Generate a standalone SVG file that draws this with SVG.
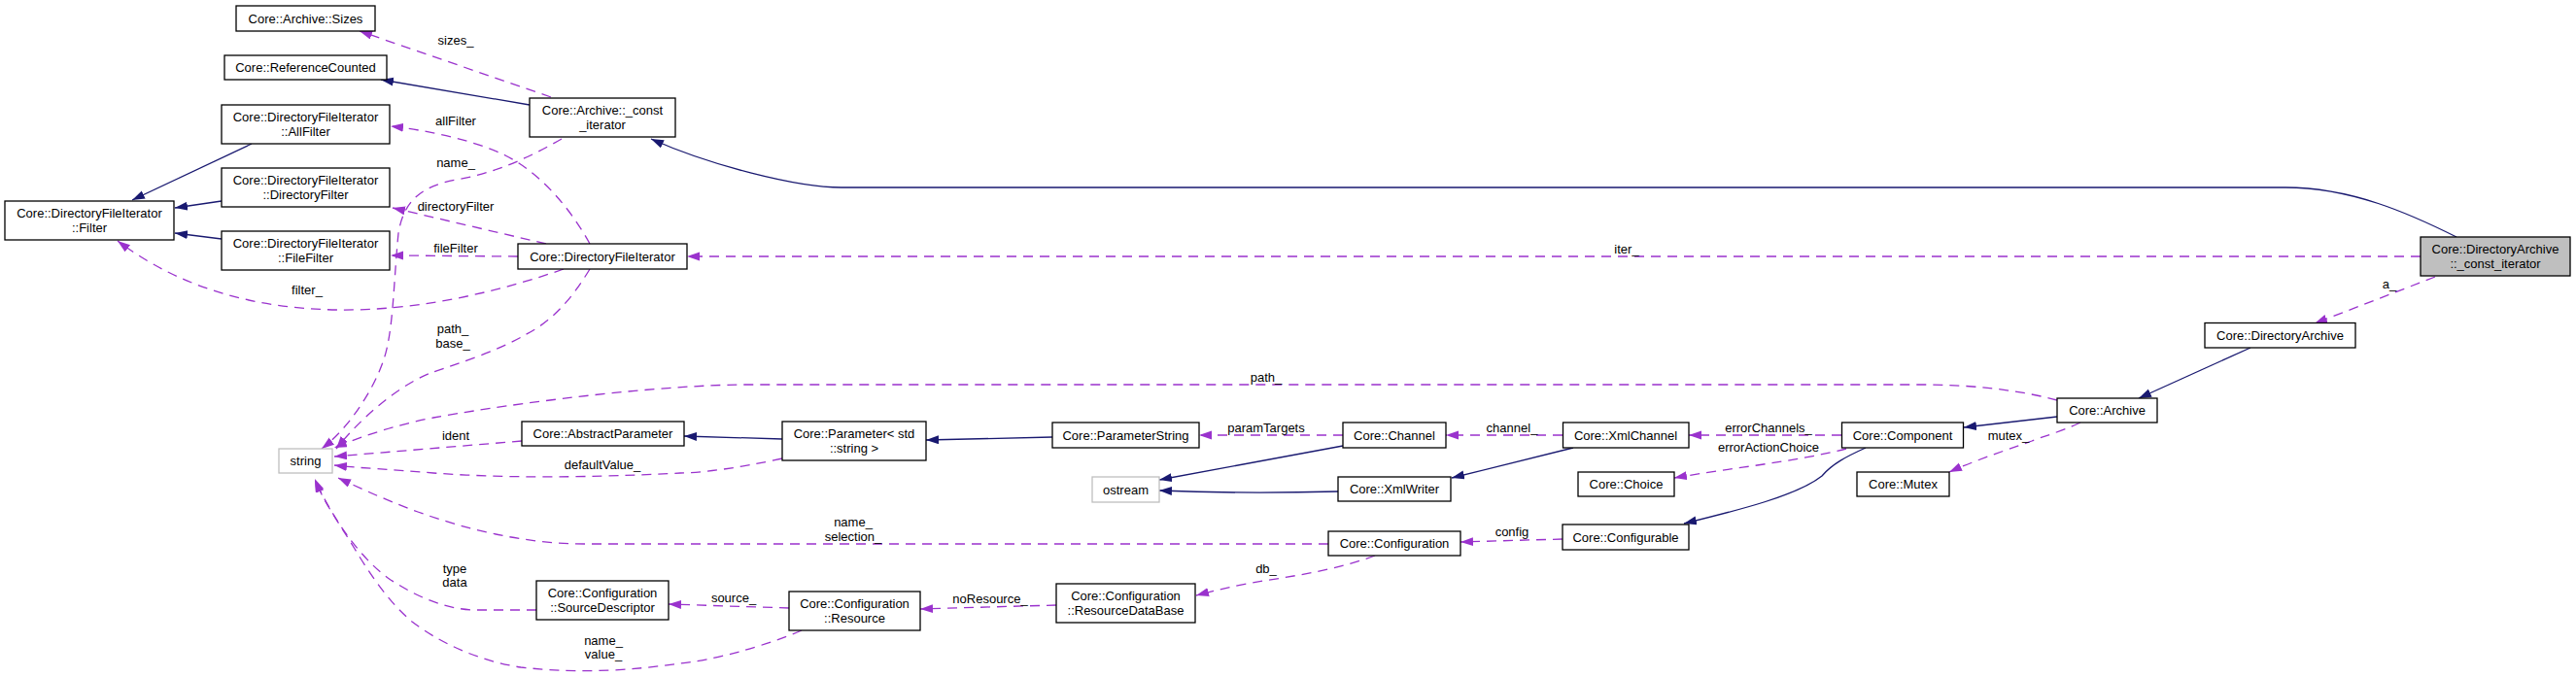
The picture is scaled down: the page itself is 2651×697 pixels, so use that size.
<svg xmlns="http://www.w3.org/2000/svg" width="2651" height="697" viewBox="0 0 2651 697">
<style>
.n rect{fill:#fff;stroke:#000;stroke-width:1.3}
.n rect.g{stroke:#bfbfbf}
.n rect.f{fill:#bfbfbf}
text{font-family:"Liberation Sans",Arial,sans-serif;font-size:13px;fill:#000;text-anchor:middle}
.s{fill:none;stroke:#191970;stroke-width:1.3}
.d{fill:none;stroke:#9a32cd;stroke-width:1.3;stroke-dasharray:10,7}
</style>
<defs>
<marker id="ab" markerUnits="userSpaceOnUse" markerWidth="14" markerHeight="10" refX="13" refY="4.5" orient="auto"><path d="M0,0 L13,4.5 L0,9 z" fill="#191970"/></marker>
<marker id="ap" markerUnits="userSpaceOnUse" markerWidth="14" markerHeight="10" refX="13" refY="4.5" orient="auto"><path d="M0,0 L13,4.5 L0,9 z" fill="#9a32cd"/></marker>
</defs>
<rect width="2651" height="697" fill="#fff"/>
<g id="edges">
<path class="d" marker-end="url(#ap)" d="M567,100 L370,32"/>
<path class="s" marker-end="url(#ab)" d="M545,108 L392,82"/>
<path class="d" marker-end="url(#ap)" d="M607,251 C590,220 560,180 520,160 C490,145 440,134 402,130"/>
<path class="d" marker-end="url(#ap)" d="M562,251 L404,214"/>
<path class="d" marker-end="url(#ap)" d="M533,264 L402,263"/>
<path class="d" marker-end="url(#ap)" d="M580,277 C500,305 420,320 348,319 C270,318 190,300 121,248"/>
<path class="s" marker-end="url(#ab)" d="M259,148 L136,206"/>
<path class="s" marker-end="url(#ab)" d="M228,207 L180,214"/>
<path class="s" marker-end="url(#ab)" d="M228,246 L180,240"/>
<path class="d" marker-end="url(#ap)" d="M578,143 C545,162 510,178 470,185 C430,192 415,210 410,240 C405,290 405,340 395,370 C385,400 360,440 331,462"/>
<path class="d" marker-end="url(#ap)" d="M607,277 C590,305 570,330 540,345 C515,360 470,375 446,383 C420,392 380,420 346,462"/>
<path class="d" marker-end="url(#ap)" d="M2117,412 C2080,402 2030,396 1980,396 L760,396 C650,398 500,420 446,430 C410,437 375,448 344,461"/>
<path class="d" marker-end="url(#ap)" d="M537,454 L344,470"/>
<path class="d" marker-end="url(#ap)" d="M805,472 C760,482 720,487 700,487 C640,490 540,494 446,487 C400,483 370,482 344,479"/>
<path class="d" marker-end="url(#ap)" d="M1367,560 L602,560 C540,560 480,545 430,527 C390,512 365,500 348,492"/>
<path class="d" marker-end="url(#ap)" d="M552,628 L491,628 C460,628 430,615 402,597 C370,575 340,530 324,493"/>
<path class="d" marker-end="url(#ap)" d="M825,649 C780,668 730,680 700,683 C650,690 600,694 536,687 C490,680 450,660 424,640 C400,620 380,590 365,565 C350,540 335,520 324,494"/>
<path class="d" marker-end="url(#ap)" d="M812,626 L688,622"/>
<path class="d" marker-end="url(#ap)" d="M1087,623 L947,627"/>
<path class="d" marker-end="url(#ap)" d="M1415,572 C1380,585 1340,592 1300,598 C1270,603 1250,608 1231,613"/>
<path class="d" marker-end="url(#ap)" d="M1608,555 L1503,558"/>
<path class="s" marker-end="url(#ab)" d="M805,452 L704,449"/>
<path class="s" marker-end="url(#ab)" d="M1083,450 L953,453"/>
<path class="d" marker-end="url(#ap)" d="M1382,448 L1234,448"/>
<path class="s" marker-end="url(#ab)" d="M1382,459 L1193,494"/>
<path class="s" marker-end="url(#ab)" d="M1377,506 C1300,508 1240,507 1193,505"/>
<path class="d" marker-end="url(#ap)" d="M1608,448 L1488,448"/>
<path class="s" marker-end="url(#ab)" d="M1619,461 L1494,492"/>
<path class="d" marker-end="url(#ap)" d="M1895,448 L1738,448"/>
<path class="d" marker-end="url(#ap)" d="M1900,462 C1850,475 1780,482 1723,492"/>
<path class="s" marker-end="url(#ab)" d="M1920,461 C1900,470 1885,478 1875,490 C1850,510 1790,525 1733,539"/>
<path class="s" marker-end="url(#ab)" d="M2117,429 L2021,440"/>
<path class="d" marker-end="url(#ap)" d="M2141,435 C2120,445 2100,450 2091,454 C2060,465 2030,475 2006,486"/>
<path class="s" marker-end="url(#ab)" d="M2316,358 L2201,410"/>
<path class="d" marker-end="url(#ap)" d="M2506,285 L2382,333"/>
<path class="s" marker-end="url(#ab)" d="M2528,244 C2480,220 2420,193 2352,193 L866,193 C820,193 730,170 670,143"/>
<path class="d" marker-end="url(#ap)" d="M2491,264 L707,264"/>
<text x="469" y="45.5">sizes_</text>
<text x="469" y="128.5">allFilter</text>
<text x="469" y="171.5">name_</text>
<text x="469" y="216.5">directoryFilter</text>
<text x="469" y="259.5">fileFilter</text>
<text x="316" y="302.5">filter_</text>
<text x="466" y="342.5">path_</text>
<text x="466" y="357.5">base_</text>
<text x="1303" y="392.5">path_</text>
<text x="469" y="452.5">ident</text>
<text x="620" y="482.5">defaultValue_</text>
<text x="878" y="541.5">name_</text>
<text x="878" y="556.5">selection_</text>
<text x="468" y="589.5">type</text>
<text x="468" y="603.5">data</text>
<text x="621" y="663.5">name_</text>
<text x="621" y="677.5">value_</text>
<text x="755" y="619.5">source_</text>
<text x="1019" y="620.5">noResource_</text>
<text x="1303" y="589.5">db_</text>
<text x="1303" y="444.5">paramTargets</text>
<text x="1556" y="444.5">channel_</text>
<text x="1820" y="444.5">errorChannels_</text>
<text x="1820" y="464.5">errorActionChoice</text>
<text x="1556" y="551.5">config</text>
<text x="2067" y="452.5">mutex_</text>
<text x="2459" y="297">a_</text>
<text x="1674" y="260.5">iter_</text>
</g>
<g id="n_sizes" class="n"><rect x="243" y="6" width="143" height="26"/><text x="314.5" y="23.5">Core::Archive::Sizes</text></g>
<g id="n_refcounted" class="n"><rect x="231" y="57" width="167" height="25"/><text x="314.5" y="74">Core::ReferenceCounted</text></g>
<g id="n_allfilter" class="n"><rect x="228" y="108" width="173" height="40"/><text x="314.5" y="125">Core::DirectoryFileIterator</text><text x="314.5" y="140">::AllFilter</text></g>
<g id="n_dirfilter" class="n"><rect x="228" y="173" width="173" height="40"/><text x="314.5" y="190">Core::DirectoryFileIterator</text><text x="314.5" y="205">::DirectoryFilter</text></g>
<g id="n_filefilter" class="n"><rect x="228" y="238" width="173" height="40"/><text x="314.5" y="255">Core::DirectoryFileIterator</text><text x="314.5" y="270">::FileFilter</text></g>
<g id="n_filter" class="n"><rect x="5" y="207" width="174" height="40"/><text x="92" y="224">Core::DirectoryFileIterator</text><text x="92" y="239">::Filter</text></g>
<g id="n_arch_iter" class="n"><rect x="545" y="101" width="150" height="40"/><text x="620" y="118">Core::Archive::_const</text><text x="620" y="133">_iterator</text></g>
<g id="n_dfi" class="n"><rect x="533" y="251" width="174" height="26"/><text x="620" y="268.5">Core::DirectoryFileIterator</text></g>
<g id="n_string" class="n"><rect class="g" x="287" y="462" width="55" height="25"/><text x="314.5" y="479">string</text></g>
<g id="n_absparam" class="n"><rect x="537" y="434" width="167" height="25"/><text x="620.5" y="451">Core::AbstractParameter</text></g>
<g id="n_param" class="n"><rect x="805" y="434" width="148" height="40"/><text x="879" y="451">Core::Parameter&lt; std</text><text x="879" y="466">::string &gt;</text></g>
<g id="n_paramstring" class="n"><rect x="1083" y="435" width="151" height="26"/><text x="1158.5" y="452.5">Core::ParameterString</text></g>
<g id="n_ostream" class="n"><rect class="g" x="1124" y="491" width="69" height="26"/><text x="1158.5" y="508.5">ostream</text></g>
<g id="n_srcdesc" class="n"><rect x="552" y="598" width="136" height="40"/><text x="620" y="615">Core::Configuration</text><text x="620" y="630">::SourceDescriptor</text></g>
<g id="n_resource" class="n"><rect x="812" y="609" width="135" height="40"/><text x="879.5" y="626">Core::Configuration</text><text x="879.5" y="641">::Resource</text></g>
<g id="n_resdb" class="n"><rect x="1087" y="601" width="143" height="40"/><text x="1158.5" y="618">Core::Configuration</text><text x="1158.5" y="633">::ResourceDataBase</text></g>
<g id="n_channel" class="n"><rect x="1382" y="435" width="106" height="26"/><text x="1435" y="452.5">Core::Channel</text></g>
<g id="n_xmlwriter" class="n"><rect x="1377" y="491" width="116" height="25"/><text x="1435" y="508">Core::XmlWriter</text></g>
<g id="n_configuration" class="n"><rect x="1367" y="547" width="136" height="25"/><text x="1435" y="564">Core::Configuration</text></g>
<g id="n_xmlchannel" class="n"><rect x="1608.5" y="435" width="129.5" height="26"/><text x="1673" y="452.5">Core::XmlChannel</text></g>
<g id="n_choice" class="n"><rect x="1624" y="486" width="99" height="25"/><text x="1673.5" y="503">Core::Choice</text></g>
<g id="n_configurable" class="n"><rect x="1608" y="540" width="130" height="26"/><text x="1673" y="557.5">Core::Configurable</text></g>
<g id="n_component" class="n"><rect x="1895.5" y="435" width="125" height="26"/><text x="1958" y="452.5">Core::Component</text></g>
<g id="n_mutex" class="n"><rect x="1911" y="486" width="95" height="25"/><text x="1958.5" y="503">Core::Mutex</text></g>
<g id="n_archive" class="n"><rect x="2117" y="410" width="103" height="25"/><text x="2168.5" y="427">Core::Archive</text></g>
<g id="n_dirarchive" class="n"><rect x="2269" y="332.5" width="155" height="25.5"/><text x="2346.5" y="350">Core::DirectoryArchive</text></g>
<g id="n_da_iter" class="n"><rect class="f" x="2491" y="244" width="154" height="40"/><text x="2568" y="261">Core::DirectoryArchive</text><text x="2568" y="276">::_const_iterator</text></g>
</svg>
